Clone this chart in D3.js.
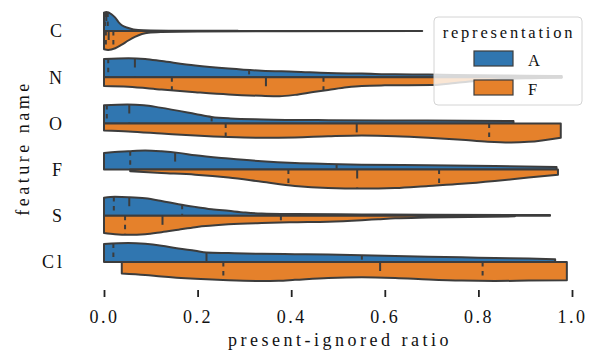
<!DOCTYPE html>
<html>
<head>
<meta charset="utf-8">
<script src="https://cdn.jsdelivr.net/npm/d3@7/dist/d3.min.js"></script>
<style>
  html, body { margin: 0; padding: 0; background: #fff; }
  svg text { font-family: 'Liberation Serif', 'DejaVu Serif', serif !important; fill: #111; }
</style>
</head>
<body>
<svg id="chart" width="589" height="350" font-family="Liberation Serif, DejaVu Serif, serif"></svg>
<script>
// Categories and hue levels
const categories = ["C", "N", "O", "F", "S", "Cl"];
const hues = ["A", "F"];
const xTicks = [0, 0.2, 0.4, 0.6, 0.8, 1.0];
const xLabel = "present-ignored ratio";
const yLabel = "feature name";
const legendTitle = "representation";

// Kernel density profiles per category / representation:
// *_at = positions along the ratio, *_dens = density relative to the half's peak
const C_A_at   = [0, 0.005, 0.016, 0.024, 0.031, 0.038, 0.052, 0.073, 0.1, 0.15, 0.2, 0.286];
const C_A_dens = [0.96, 1, 0.88, 0.70, 0.47, 0.30, 0.16, 0.05, 0.026, 0.016, 0.011, 0.008];
const C_F_at   = [0, 0.009, 0.024, 0.038, 0.052, 0.066, 0.081, 0.095, 0.123, 0.2, 0.4, 0.68];
const C_F_dens = [0.96, 1, 0.91, 0.72, 0.5, 0.31, 0.16, 0.09, 0.05, 0.02, 0.01, 0.006];

const N_A_at   = [0, 0.052, 0.088, 0.123, 0.195, 0.266, 0.337, 0.408, 0.479, 0.551, 0.622, 0.693, 0.8, 0.9, 0.978];
const N_A_dens = [0.96, 1, 0.96, 0.85, 0.62, 0.46, 0.34, 0.29, 0.22, 0.19, 0.15, 0.14, 0.10, 0.08, 0.06];
const N_F_at   = [0, 0.052, 0.123, 0.195, 0.266, 0.337, 0.375, 0.408, 0.447, 0.479, 0.519, 0.551, 0.6, 0.7, 0.75, 0.8, 0.85, 0.9, 0.978];
const N_F_dens = [0.46, 0.5, 0.65, 0.79, 0.91, 0.98, 1, 0.93, 0.78, 0.67, 0.53, 0.46, 0.43, 0.41, 0.31, 0.19, 0.11, 0.06, 0.03];

const O_A_at   = [0, 0.05, 0.085, 0.12, 0.195, 0.23, 0.27, 0.34, 0.48, 0.69, 0.875];
const O_A_dens = [0.96, 1, 0.96, 0.83, 0.5, 0.34, 0.26, 0.21, 0.17, 0.15, 0.12];
const O_F_at   = [0, 0.052, 0.123, 0.195, 0.266, 0.337, 0.408, 0.479, 0.551, 0.622, 0.693, 0.764, 0.82, 0.87, 0.907, 0.976];
const O_F_dens = [0.37, 0.42, 0.53, 0.64, 0.72, 0.76, 0.74, 0.68, 0.64, 0.67, 0.75, 0.86, 0.96, 1, 0.97, 0.75];

const F_A_at   = [0, 0.052, 0.088, 0.123, 0.159, 0.195, 0.266, 0.337, 0.408, 0.479, 0.551, 0.693, 0.835, 0.967];
const F_A_dens = [0.88, 0.96, 1, 0.96, 0.88, 0.75, 0.58, 0.44, 0.35, 0.3, 0.26, 0.23, 0.19, 0.14];
const F_F_at   = [0.056, 0.123, 0.195, 0.266, 0.337, 0.408, 0.479, 0.551, 0.622, 0.693, 0.764, 0.835, 0.907, 0.97];
const F_F_dens = [0.09, 0.18, 0.27, 0.42, 0.64, 0.86, 0.97, 1, 0.97, 0.86, 0.75, 0.6, 0.42, 0.27];

const S_A_at   = [0, 0.0235, 0.052, 0.088, 0.123, 0.159, 0.195, 0.23, 0.266, 0.302, 0.337, 0.408, 0.551, 0.693, 0.953];
const S_A_dens = [0.95, 1, 0.98, 0.92, 0.78, 0.61, 0.47, 0.35, 0.26, 0.17, 0.12, 0.09, 0.07, 0.05, 0.04];
const S_F_at   = [0, 0.0235, 0.052, 0.088, 0.123, 0.159, 0.195, 0.266, 0.337, 0.408, 0.479, 0.551, 0.586, 0.622, 0.693, 0.878];
const S_F_dens = [0.91, 0.97, 1, 0.97, 0.86, 0.73, 0.6, 0.45, 0.38, 0.34, 0.31, 0.23, 0.18, 0.13, 0.09, 0.03];

const Cl_A_at   = [0, 0.052, 0.088, 0.123, 0.159, 0.195, 0.219, 0.266, 0.337, 0.408, 0.479, 0.551, 0.622, 0.693, 0.764, 0.835, 0.907, 0.964];
const Cl_A_dens = [0.95, 1, 0.96, 0.86, 0.71, 0.59, 0.5, 0.47, 0.43, 0.41, 0.39, 0.36, 0.32, 0.28, 0.25, 0.21, 0.18, 0.14];
const Cl_F_at   = [0.038, 0.088, 0.123, 0.195, 0.266, 0.337, 0.373, 0.408, 0.479, 0.551, 0.622, 0.693, 0.764, 0.835, 0.907, 0.989];
const Cl_F_dens = [0.6, 0.68, 0.76, 0.88, 0.96, 1, 0.99, 0.94, 0.84, 0.8, 0.84, 0.92, 0.98, 1, 0.98, 0.96];

// Quartiles (q1, median, q3) per category, in category order
const q1_A  = [0.002, 0.009, 0.006, 0.056, 0.021, 0.020];
const med_A = [0.005, 0.066, 0.054, 0.152, 0.054, 0.219];
const q3_A  = [0.008, 0.310, 0.230, 0.497, 0.167, 0.551];
const q1_F  = [0.004, 0.145, 0.260, 0.394, 0.045, 0.255];
const med_F = [0.010, 0.346, 0.540, 0.541, 0.125, 0.590];
const q3_F  = [0.020, 0.469, 0.823, 0.716, 0.378, 0.809];

const colors = ["#3076b0", "#e5812b"];
const lineColor = "#3c3c3c";
const serif = "'Liberation Serif', 'DejaVu Serif', serif";

const halves = [
  { cat: "C",  hue: "A", at: C_A_at,  dens: C_A_dens },
  { cat: "C",  hue: "F", at: C_F_at,  dens: C_F_dens },
  { cat: "N",  hue: "A", at: N_A_at,  dens: N_A_dens },
  { cat: "N",  hue: "F", at: N_F_at,  dens: N_F_dens },
  { cat: "O",  hue: "A", at: O_A_at,  dens: O_A_dens },
  { cat: "O",  hue: "F", at: O_F_at,  dens: O_F_dens },
  { cat: "F",  hue: "A", at: F_A_at,  dens: F_A_dens },
  { cat: "F",  hue: "F", at: F_F_at,  dens: F_F_dens },
  { cat: "S",  hue: "A", at: S_A_at,  dens: S_A_dens },
  { cat: "S",  hue: "F", at: S_F_at,  dens: S_F_dens },
  { cat: "Cl", hue: "A", at: Cl_A_at, dens: Cl_A_dens },
  { cat: "Cl", hue: "F", at: Cl_F_at, dens: Cl_F_dens }
];
halves.forEach(h => {
  const i = categories.indexOf(h.cat);
  h.quart = h.hue === "A" ? [q1_A[i], med_A[i], q3_A[i]] : [q1_F[i], med_F[i], q3_F[i]];
});

const svg = d3.select("#chart");
const x = d3.scaleLinear().domain([0, 1]).range([104, 572]);
const y = d3.scalePoint().domain(categories).range([31, 262]);
const w = d3.scaleLinear().domain([0, 1]).range([0, 19]);
const color = d3.scaleOrdinal().domain(hues).range(colors);

const plot = svg.append("g");

halves.forEach(h => {
  const cy = y(h.cat);
  const sign = h.hue === "A" ? -1 : 1;
  const pts = h.at.map((v, k) => [v, h.dens[k]]);
  const area = d3.area()
    .x(d => x(d[0]))
    .y0(cy)
    .y1(d => cy + sign * w(d[1]))
    .curve(d3.curveMonotoneX);
  plot.append("path")
    .attr("d", area(pts))
    .attr("fill", color(h.hue))
    .attr("stroke", lineColor)
    .attr("stroke-width", 2)
    .attr("stroke-linejoin", "round");

  // quartile lines reach from the centre to the density outline
  const densAt = d3.scaleLinear().domain(h.at).range(h.dens).clamp(true);
  h.quart.forEach((q, k) => {
    const len = w(densAt(q));
    const dash = k === 1 ? "9,9" : "4.5,4.5";
    const yA = h.hue === "A" ? cy - len : cy;
    const yB = h.hue === "A" ? cy : cy + len;
    plot.append("line")
      .attr("x1", x(q)).attr("x2", x(q))
      .attr("y1", yA).attr("y2", yB)
      .attr("stroke", lineColor)
      .attr("stroke-width", 2)
      .attr("stroke-dasharray", dash);
  });
});

// x axis (no spine)
const xAxis = svg.append("g")
  .attr("transform", "translate(0,290)")
  .call(d3.axisBottom(x).tickValues(xTicks).tickFormat(d3.format(".1f")).tickSize(7).tickPadding(13));
xAxis.attr("font-family", serif).attr("font-size", 18);
xAxis.select(".domain").remove();
xAxis.selectAll(".tick line").attr("stroke", "#222").attr("stroke-width", 1.8);
xAxis.selectAll(".tick text")
  .style("font-family", serif)
  .style("font-size", "18px")
  .attr("letter-spacing", 2.5)
  .attr("fill", "#111");

// y category labels
svg.append("g").selectAll("text")
  .data(categories)
  .join("text")
  .attr("x", 65)
  .attr("y", d => y(d))
  .attr("dy", "0.35em")
  .attr("text-anchor", "end")
  .style("font-family", serif)
  .style("font-size", "18px")
  .attr("letter-spacing", 3)
  .text(d => d);

// axis titles
svg.append("text")
  .attr("x", 340).attr("y", 346)
  .attr("text-anchor", "middle")
  .style("font-family", serif)
  .style("font-size", "18px")
  .attr("letter-spacing", 3.5)
  .text(xLabel);

svg.append("text")
  .attr("transform", "translate(29,148) rotate(-90)")
  .attr("text-anchor", "middle")
  .style("font-family", serif)
  .style("font-size", "18px")
  .attr("letter-spacing", 3.5)
  .text(yLabel);

// legend
const lg = svg.append("g");
lg.append("rect")
  .attr("x", 434).attr("y", 17).attr("width", 148).attr("height", 88)
  .attr("rx", 4)
  .attr("fill", "#fff").attr("fill-opacity", 0.8)
  .attr("stroke", "#d4d4d4").attr("stroke-width", 1);
lg.append("text")
  .attr("x", 509).attr("y", 38)
  .attr("text-anchor", "middle")
  .style("font-family", serif)
  .style("font-size", "16.5px")
  .attr("letter-spacing", 2.8)
  .text(legendTitle);
hues.forEach((hname, i) => {
  lg.append("rect")
    .attr("x", 474).attr("y", 51 + i * 29)
    .attr("width", 39).attr("height", 15)
    .attr("fill", color(hname))
    .attr("stroke", lineColor).attr("stroke-width", 1.2);
  lg.append("text")
    .attr("x", 528).attr("y", 66 + i * 29)
    .style("font-family", serif)
    .style("font-size", "16.5px")
    .text(hname);
});
</script>
</body>
</html>
